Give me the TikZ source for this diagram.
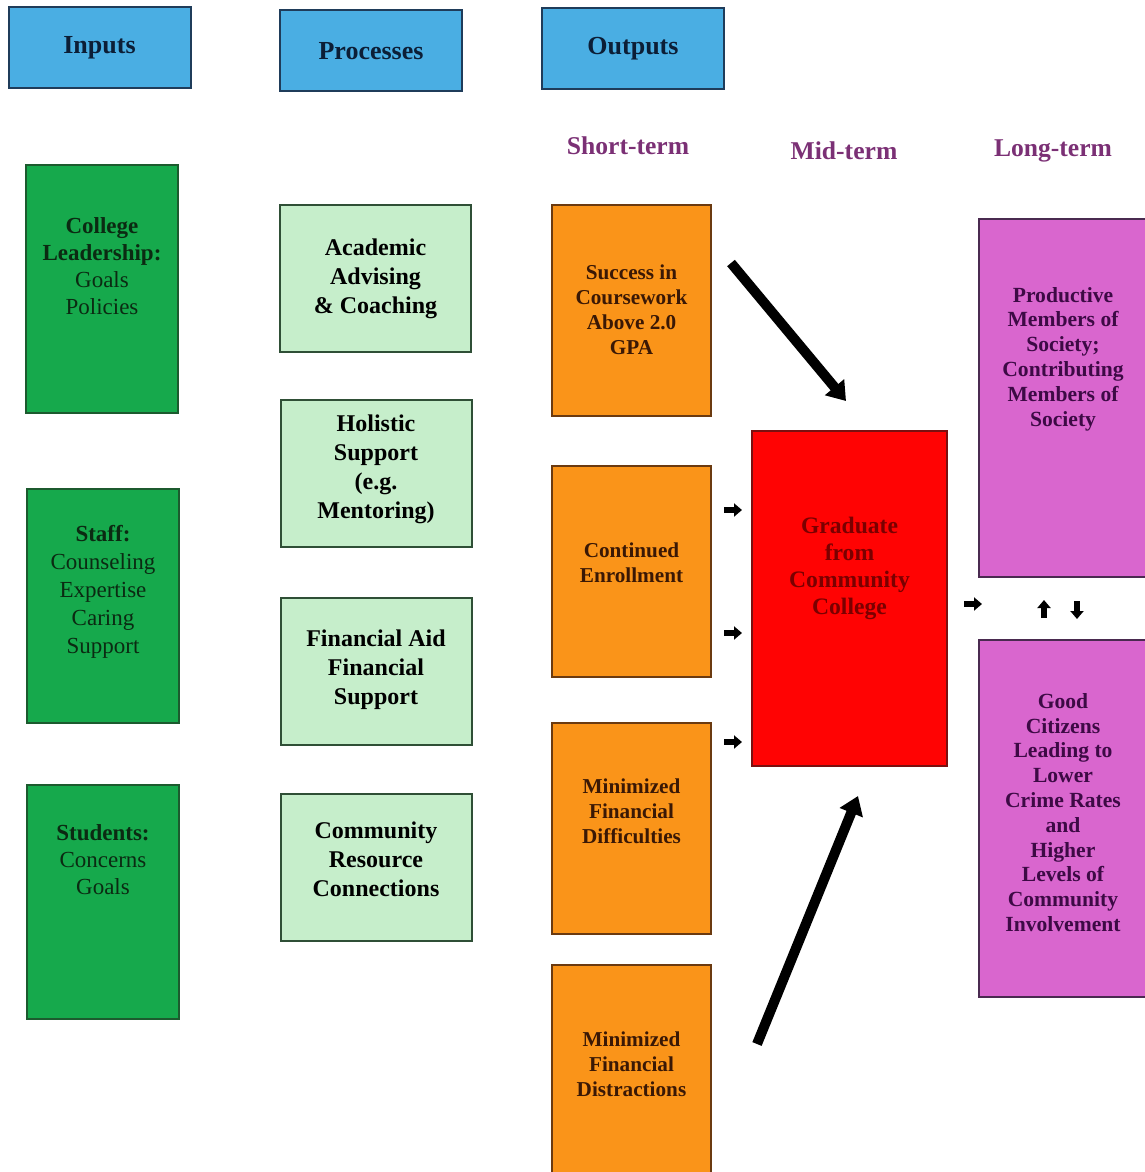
\documentclass[tikz,border=0pt]{standalone}
\usepackage{fontspec}
\setmainfont{Liberation Serif}
\usetikzlibrary{arrows.meta}
\definecolor{hdrblue}{HTML}{4AAEE3}
\definecolor{hdrline}{HTML}{1F3C5A}
\definecolor{hdrtext}{HTML}{0C1E36}
\definecolor{dgreen}{HTML}{16A94C}
\definecolor{dgreenline}{HTML}{1C5A2E}
\definecolor{dgtext}{HTML}{0B2A12}
\definecolor{lgreen}{HTML}{C6EECB}
\definecolor{lgreenline}{HTML}{2F4F36}
\definecolor{orangefill}{HTML}{FA9419}
\definecolor{orangeline}{HTML}{6B3A10}
\definecolor{orangetext}{HTML}{3A1805}
\definecolor{redfill}{HTML}{FF0303}
\definecolor{redline}{HTML}{7A1010}
\definecolor{redtext}{HTML}{7A0000}
\definecolor{purplefill}{HTML}{D966CE}
\definecolor{purpleline}{HTML}{4A2A50}
\definecolor{purpletext}{HTML}{3D0A45}
\definecolor{termc}{HTML}{7B3075}
\newcommand\bt[3]{\parbox{#1}{\centering #2\par\vspace*{#3}}}
\begin{document}
\begin{tikzpicture}[x=0.5pt,y=-0.5pt,
  base/.style={draw, line width=1pt, inner sep=0pt, align=center},
  hdr/.style={base, fill=hdrblue, draw=hdrline, text=hdrtext,
    font=\bfseries\fontsize{13}{15}\selectfont, minimum width=91pt, minimum height=40.5pt},
  inbox/.style={base, fill=dgreen, draw=dgreenline, text=dgtext,
    font=\fontsize{11.5}{13.5}\selectfont, minimum width=76pt, minimum height=117pt},
  procbox/.style={base, fill=lgreen, draw=lgreenline, text=black,
    font=\bfseries\fontsize{12}{14.5}\selectfont, minimum width=95.5pt, minimum height=73.5pt},
  outbox/.style={base, fill=orangefill, draw=orangeline, text=orangetext,
    font=\bfseries\fontsize{10.6}{12.5}\selectfont, minimum width=79.5pt, minimum height=105.5pt},
  midbox/.style={base, fill=redfill, draw=redline, text=redtext,
    font=\bfseries\fontsize{11.8}{13.5}\selectfont, minimum width=97.5pt, minimum height=167.5pt},
  longbox/.style={base, fill=purplefill, draw=purpleline, text=purpletext,
    font=\bfseries\fontsize{10.8}{12.4}\selectfont, minimum width=84pt, minimum height=179pt},
  term/.style={text=termc, font=\bfseries\fontsize{12.8}{14}\selectfont},
  bigarrow/.style={line width=5pt, -{Triangle[length=9pt,width=12pt]}},
  smallarrow/.style={line width=2.8pt, -{Triangle[length=4pt,width=6.5pt]}}
]
\useasboundingbox (0,0) rectangle (1145,1172);
\clip (0,0) rectangle (1145,1172);

% headers
\node[hdr] (inputs) at (99.5,47.5) {Inputs};
\node[hdr] (processes) at (371,51) {Processes};
\node[hdr] (outputs) at (633,48.5) {Outputs};

\node[term] (short) at (628,146) {Short-term};
\node[term] (mid) at (844,151) {Mid-term};
\node[term] (long) at (1053,151) {Long-term};

% inputs
\node[inbox, minimum height=124pt] (college) at (102,289)
  {\bt{74pt}{\textbf{College}\\\textbf{Leadership:}\\Goals\\Policies}{23pt}};
\node[inbox, font=\fontsize{11.5}{14}\selectfont] (staff) at (103,606)
  {\bt{74pt}{\textbf{Staff:}\\Counseling\\Expertise\\Caring\\Support}{14pt}};
\node[inbox] (students) at (103,902)
  {\bt{74pt}{\textbf{Students:}\\Concerns\\Goals}{42pt}};

% processes
\node[procbox] (advising) at (375.5,278.5)
  {\bt{92pt}{Academic\\Advising\\\& Coaching}{0pt}};
\node[procbox] (holistic) at (376,473.5)
  {\bt{92pt}{Holistic\\Support\\(e.g.\\Mentoring)}{4pt}};
\node[procbox] (finaid) at (376,671.5)
  {\bt{92pt}{Financial Aid\\Financial\\Support}{2pt}};
\node[procbox] (community) at (376,867.5)
  {\bt{92pt}{Community\\Resource\\Connections}{8pt}};

% short-term outputs
\node[outbox] (success) at (631.5,310)
  {\bt{78pt}{Success in\\Coursework\\Above 2.0\\GPA}{0pt}};
\node[outbox] (enroll) at (631.5,571.5)
  {\bt{78pt}{Continued\\Enrollment}{9pt}};
\node[outbox] (difficult) at (631.5,828.5)
  {\bt{78pt}{Minimized\\Financial\\Difficulties}{17pt}};
\node[outbox, minimum height=112.5pt] (distract) at (631.5,1077.5)
  {\bt{78pt}{Minimized\\Financial\\Distractions}{13pt}};

% mid-term
\node[midbox] (graduate) at (849.5,598.5)
  {\bt{94pt}{Graduate\\from\\Community\\College}{30pt}};

% long-term
\node[longbox] (productive) at (1063,398)
  {\bt{82pt}{Productive\\Members of\\Society;\\Contributing\\Members of\\Society}{39pt}};
\node[longbox, minimum height=178.5pt] (citizens) at (1063,818.5)
  {\bt{82pt}{Good\\Citizens\\Leading to\\Lower\\Crime Rates\\and\\Higher\\Levels of\\Community\\Involvement}{6pt}};

% connectors
\coordinate (a1s) at (731,263);
\coordinate (a1e) at (846,401);
\coordinate (a2s) at (757,1044);
\coordinate (a2e) at (858,796);
\draw[bigarrow] (a1s) -- (a1e);
\draw[bigarrow] (a2s) -- (a2e);

\coordinate (s1a) at (724,510); \coordinate (s1b) at (742,510);
\coordinate (s2a) at (724,633); \coordinate (s2b) at (742,633);
\coordinate (s3a) at (724,742); \coordinate (s3b) at (742,742);
\coordinate (s4a) at (964,604); \coordinate (s4b) at (982,604);
\coordinate (s5a) at (1044,618); \coordinate (s5b) at (1044,600);
\coordinate (s6a) at (1077,601); \coordinate (s6b) at (1077,619);
\draw[smallarrow] (s1a) -- (s1b);
\draw[smallarrow] (s2a) -- (s2b);
\draw[smallarrow] (s3a) -- (s3b);
\draw[smallarrow] (s4a) -- (s4b);
\draw[smallarrow] (s5a) -- (s5b);
\draw[smallarrow] (s6a) -- (s6b);
\end{tikzpicture}
\end{document}
